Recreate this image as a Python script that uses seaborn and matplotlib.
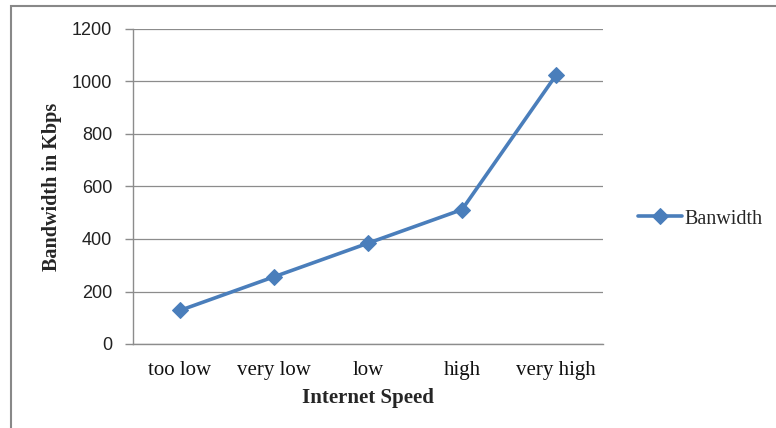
import matplotlib
matplotlib.use("Agg")
import matplotlib.pyplot as plt
import matplotlib.patches as mpatches
import seaborn as sns
import pandas as pd

# data
speed = ["too low", "very low", "low", "high", "very high"]
bandwidth = [128, 256, 384, 512, 1024]
yticks = [0, 200, 400, 600, 800, 1000, 1200]

df = pd.DataFrame({"speed": speed, "bandwidth": bandwidth})

sns.set_style("white")
blue = "#4A7EBB"
grid_grey = "#8C8C8C"

fig = plt.figure(figsize=(7.76, 4.28), dpi=100)
ax = fig.add_axes([133 / 776, 1 - 344 / 428, 470 / 776, 315 / 428])

sns.lineplot(data=df, x="speed", y="bandwidth", ax=ax, sort=False,
             color=blue, linewidth=2.6, marker="D", markersize=8,
             markeredgecolor=blue, label="Banwidth")

ax.set_xlim(-0.5, 4.5)
ax.set_ylim(0, 1200)
ax.set_yticks(yticks)
ax.set_yticklabels([str(v) for v in yticks], family="Liberation Sans", fontsize=13)
ax.set_xticks(range(len(speed)))
ax.set_xticklabels(speed, family="Liberation Serif", fontsize=15)
ax.tick_params(axis="y", left=True, length=6, width=1, color=grid_grey, pad=9, colors="#222222")
ax.tick_params(axis="x", bottom=False, length=0, pad=12, colors="#111111")
ax.grid(axis="y", color=grid_grey, linewidth=0.9)
ax.set_axisbelow(True)
for side in ["top", "right"]:
    ax.spines[side].set_visible(False)
for side in ["left", "bottom"]:
    ax.spines[side].set_color(grid_grey)
    ax.spines[side].set_linewidth(1)

ax.set_xlabel("Internet Speed", family="Liberation Serif", fontsize=15,
              fontweight="bold", labelpad=6)
ax.set_ylabel("Bandwidth in Kbps", family="Liberation Serif", fontsize=14.5,
              fontweight="bold", labelpad=7)

ax.legend(loc="center left", bbox_to_anchor=(630 / 776, 1 - 219 / 428),
          bbox_transform=fig.transFigure, frameon=False,
          prop={"family": "Liberation Serif", "size": 14.5},
          handlelength=2.2, handletextpad=0.1, borderaxespad=0)

# outer chart border (cut by the image edge on right and bottom)
border = mpatches.Rectangle((11 / 776, -0.1), 1.2, 1 - 6 / 428 + 0.1,
                            transform=fig.transFigure, fill=False,
                            edgecolor="#888888", linewidth=1.5, clip_on=False)
fig.patches.append(border)

fig.savefig("out.png", dpi=100)
